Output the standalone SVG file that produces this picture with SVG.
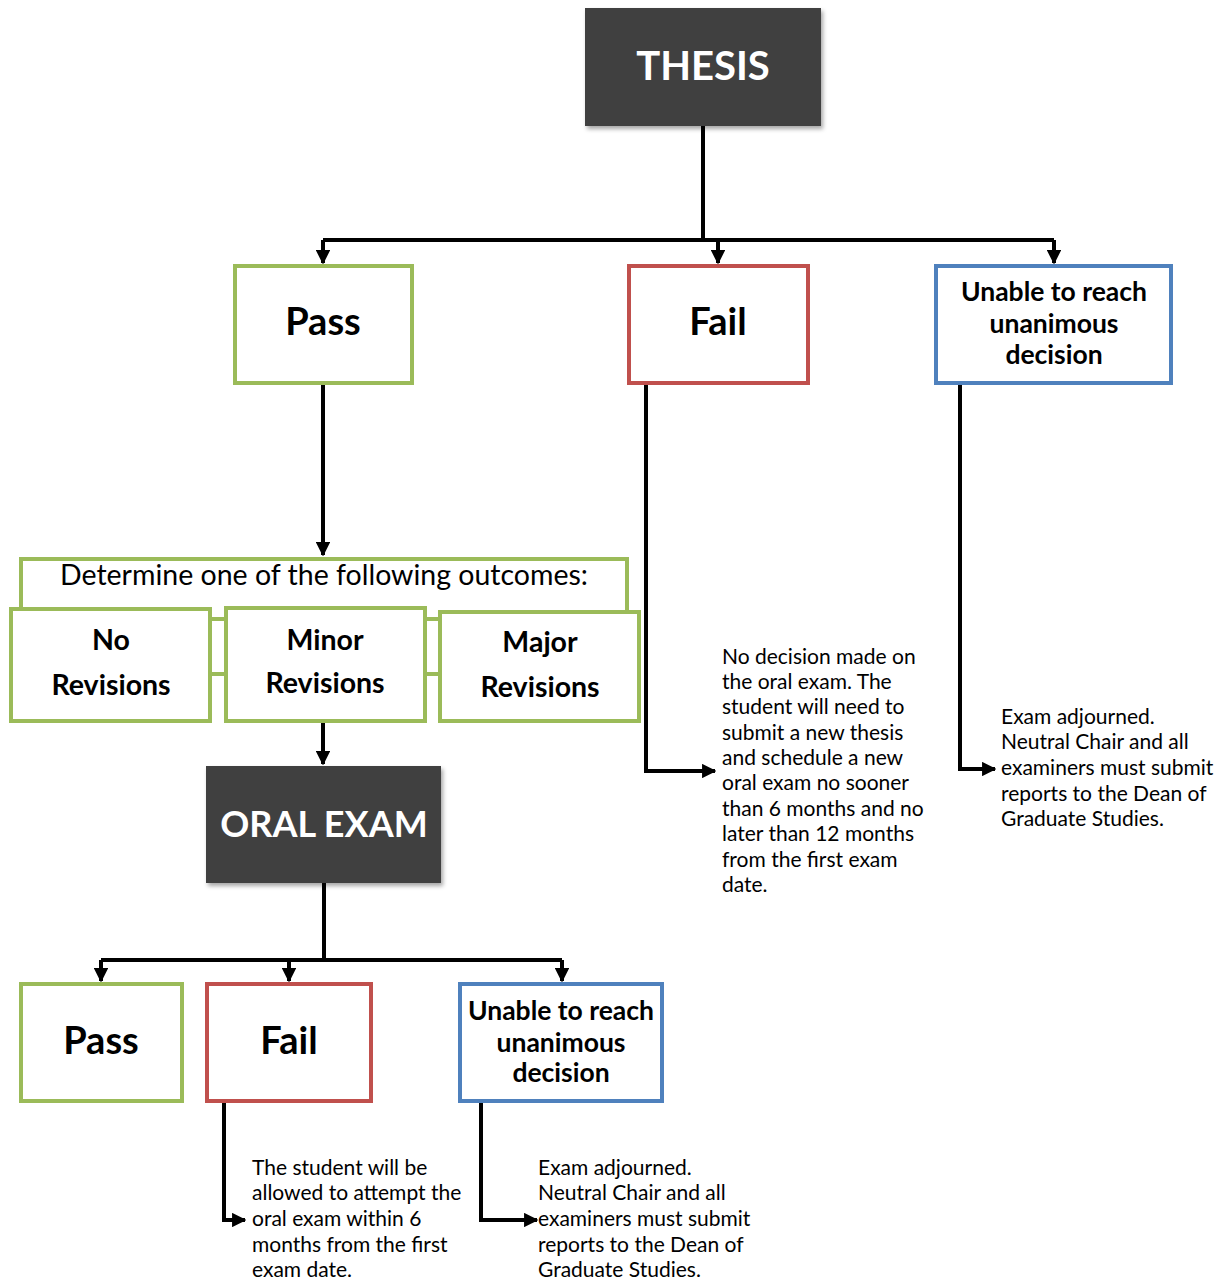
<svg xmlns="http://www.w3.org/2000/svg" width="1230" height="1282" viewBox="0 0 1230 1282">
<style>
.dark{fill:#404040;filter:url(#sh)}
.g{fill:#fff;stroke:#9bbb59;stroke-width:4}
.r{fill:#fff;stroke:#c0504d;stroke-width:4}
.b{fill:#fff;stroke:#4f81bd;stroke-width:4}
text{font-family:Lato,"Open Sans","DejaVu Sans",sans-serif;fill:#000}
.hw{font-weight:bold;fill:#fff;text-anchor:middle}
.h{font-weight:bold;text-anchor:middle}
.t{font-size:21px}
.c{fill:none;stroke:#000;stroke-width:4}
.gl{fill:none;stroke:#9bbb59;stroke-width:4}
</style>
<defs>
<filter id="sh" x="-10%" y="-10%" width="130%" height="130%">
<feDropShadow dx="2" dy="3" stdDeviation="2" flood-color="#000" flood-opacity="0.35"/>
</filter>
<marker id="ah" viewBox="0 0 10 10" refX="9" refY="5" markerWidth="3.6" markerHeight="3.6" orient="auto" markerUnits="strokeWidth">
<path d="M0,0 L10,5 L0,10 z" fill="#000"/>
</marker>
</defs>

<g id="connectors">
<path class="c" d="M703,126 V240"/>
<path class="c" d="M323,240 H1054"/>
<path class="c" d="M323,240 V263" marker-end="url(#ah)"/>
<path class="c" d="M718,240 V263" marker-end="url(#ah)"/>
<path class="c" d="M1054,240 V263" marker-end="url(#ah)"/>
<path class="c" d="M323,384 V555" marker-end="url(#ah)"/>
<path class="c" d="M646,384 V771 H715" marker-end="url(#ah)"/>
<path class="c" d="M960,384 V769 H995" marker-end="url(#ah)"/>
<path class="c" d="M323,722 V764" marker-end="url(#ah)"/>
<path class="c" d="M324,883 V960"/>
<path class="c" d="M101,960 H562"/>
<path class="c" d="M101,960 V981" marker-end="url(#ah)"/>
<path class="c" d="M289,960 V981" marker-end="url(#ah)"/>
<path class="c" d="M562,960 V981" marker-end="url(#ah)"/>
<path class="c" d="M224,1102 V1220 H245" marker-end="url(#ah)"/>
<path class="c" d="M481,1102 V1220 H537" marker-end="url(#ah)"/>
</g>

<g id="thesis">
<rect class="dark" x="585" y="8" width="236" height="118"/>
<text class="hw" x="703" y="80" font-size="40">THESIS</text>
</g>

<g id="pass1">
<rect class="g" x="235" y="266" width="177" height="117"/>
<text class="h" x="323" y="335" font-size="38">Pass</text>
</g>

<g id="fail1">
<rect class="r" x="629" y="266" width="179" height="117"/>
<text class="h" x="718" y="335" font-size="38">Fail</text>
</g>

<g id="unable1">
<rect class="b" x="936" y="266" width="235" height="117"/>
<text class="h" font-size="26.5"><tspan x="1054" y="301">Unable to reach</tspan><tspan x="1054" y="333">unanimous</tspan><tspan x="1054" y="364">decision</tspan></text>
</g>

<g id="determine">
<rect class="g" x="21" y="559" width="606" height="60"/>
<text x="324" y="585" font-size="28.5" text-anchor="middle">Determine one of the following outcomes:</text>
</g>

<g id="revision-links">
<path class="gl" d="M211,674 H225 M426,674 H439"/>
</g>

<g id="no-revisions">
<rect class="g" x="11" y="609" width="199" height="112"/>
<text class="h" font-size="28.5"><tspan x="111" y="650">No</tspan><tspan x="111" y="695">Revisions</tspan></text>
</g>

<g id="minor-revisions">
<rect class="g" x="226" y="608" width="199" height="113"/>
<text class="h" font-size="28.5"><tspan x="325" y="650">Minor</tspan><tspan x="325" y="693">Revisions</tspan></text>
</g>

<g id="major-revisions">
<rect class="g" x="440" y="612" width="199" height="109"/>
<text class="h" font-size="28.5"><tspan x="540" y="652">Major</tspan><tspan x="540" y="697">Revisions</tspan></text>
</g>

<g id="fail1-note">
<text class="t"><tspan x="722" y="664">No decision made on</tspan><tspan x="722" y="689">the oral exam. The</tspan><tspan x="722" y="714">student will need to</tspan><tspan x="722" y="740">submit a new thesis</tspan><tspan x="722" y="765">and schedule a new</tspan><tspan x="722" y="790">oral exam no sooner</tspan><tspan x="722" y="816">than 6 months and no</tspan><tspan x="722" y="841">later than 12 months</tspan><tspan x="722" y="867">from the first exam</tspan><tspan x="722" y="892">date.</tspan></text>
</g>

<g id="unable1-note">
<text class="t"><tspan x="1001" y="724">Exam adjourned.</tspan><tspan x="1001" y="749">Neutral Chair and all</tspan><tspan x="1001" y="775">examiners must submit</tspan><tspan x="1001" y="801">reports to the Dean of</tspan><tspan x="1001" y="826">Graduate Studies.</tspan></text>
</g>

<g id="oral-exam">
<rect class="dark" x="206" y="766" width="235" height="117"/>
<text class="hw" x="324" y="837" font-size="36" font-weight="600">ORAL EXAM</text>
</g>

<g id="pass2">
<rect class="g" x="21" y="984" width="161" height="117"/>
<text class="h" x="101" y="1054" font-size="38">Pass</text>
</g>

<g id="fail2">
<rect class="r" x="207" y="984" width="164" height="117"/>
<text class="h" x="289" y="1054" font-size="38">Fail</text>
</g>

<g id="unable2">
<rect class="b" x="460" y="984" width="202" height="117"/>
<text class="h" font-size="26.5"><tspan x="561" y="1020">Unable to reach</tspan><tspan x="561" y="1052">unanimous</tspan><tspan x="561" y="1082">decision</tspan></text>
</g>

<g id="fail2-note">
<text class="t"><tspan x="252" y="1175">The student will be</tspan><tspan x="252" y="1200">allowed to attempt the</tspan><tspan x="252" y="1226">oral exam within 6</tspan><tspan x="252" y="1252">months from the first</tspan><tspan x="252" y="1277">exam date.</tspan></text>
</g>

<g id="unable2-note">
<text class="t"><tspan x="538" y="1175">Exam adjourned.</tspan><tspan x="538" y="1200">Neutral Chair and all</tspan><tspan x="538" y="1226">examiners must submit</tspan><tspan x="538" y="1252">reports to the Dean of</tspan><tspan x="538" y="1277">Graduate Studies.</tspan></text>
</g>
</svg>
